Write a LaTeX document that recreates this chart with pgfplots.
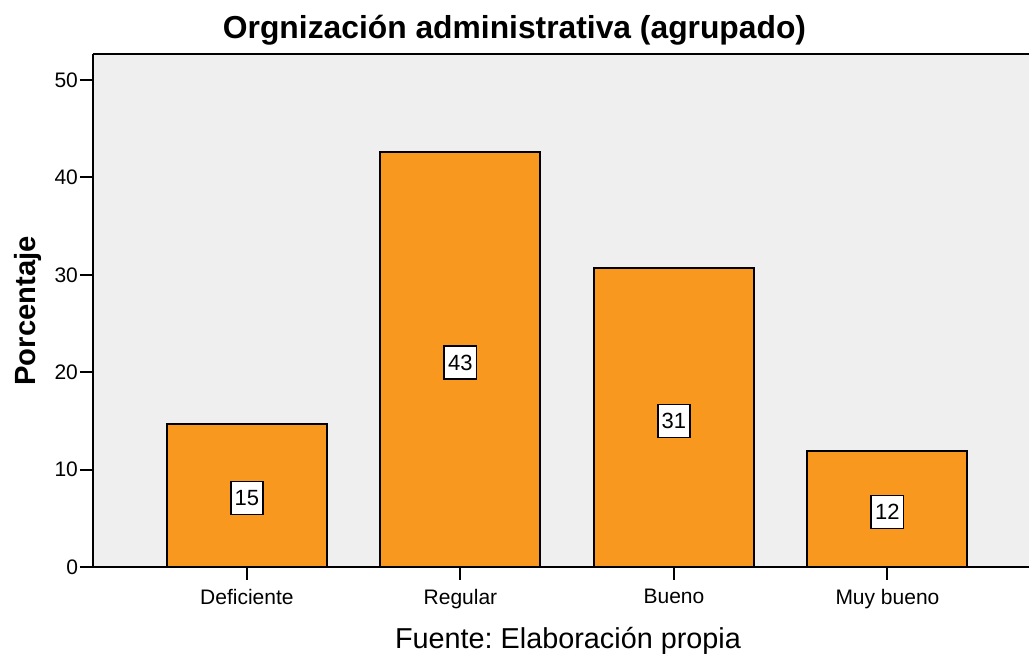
\documentclass[border=0pt]{standalone}
\usepackage{pgfplots}
\pgfplotsset{compat=1.18}
\usepackage{fontspec}
\setmainfont{Liberation Sans}
\frenchspacing
\definecolor{barorange}{RGB}{248,152,31}
\definecolor{bggray}{RGB}{239,239,239}
\begin{document}
\begin{tikzpicture}
\path[use as bounding box] (-46.5pt,-45pt) rectangle (468pt,283.5pt);
\begin{axis}[
  at={(0,0)}, anchor=south west,
  scale only axis,
  width=468pt, height=256.5pt,
  xmin=-0.721, xmax=3.663,
  ymin=0, ymax=52.67,
  axis background/.style={fill=bggray},
  axis line style={draw=none},
  xtick=data,
  xticklabels={Deficiente,Regular,Bueno,Muy bueno},
  ytick={0,10,20,30,40,50},
  tick align=outside,
  xtick pos=bottom, ytick pos=left,
  major tick length=6.5pt,
  x tick style={black, line width=1pt},
  y tick style={black, line width=1pt},
  tick label style={font=\fontsize{10.5}{12}\selectfont},
  xticklabel style={yshift=-1pt},
  yticklabel style={xshift=2.5pt},
  /pgf/number format/assume math mode=true,
  clip=false,
]
\addplot[ybar, bar width=80pt, fill=barorange, draw=black, line width=1pt]
  coordinates {(0,14.7) (1,42.6) (2,30.7) (3,11.9)};
\addplot[draw=none, mark=none, nodes near coords, point meta=explicit symbolic,
  every node near coord/.style={anchor=center, fill=white, draw=black, line width=0.8pt,
    inner sep=2pt, minimum height=16.5pt, font=\fontsize{11}{12}\selectfont}]
  coordinates {(0,7.1)[15] (1,21.0)[43] (2,15.0)[31] (3,5.65)[12]};
\draw[black, line width=1pt] (rel axis cs:0,1) -- (rel axis cs:0,0) -- (rel axis cs:1,0);
\draw[black, line width=1pt] (rel axis cs:0,1) -- (rel axis cs:1,1);
\end{axis}
\node[anchor=base, font=\bfseries\fontsize{15.9}{18}\selectfont] at (210.75pt,264pt) {Orgnización administrativa (agrupado)};
\node[anchor=base, font=\fontsize{14.4}{17}\selectfont] at (237.5pt,-41pt) {Fuente: Elaboración propia};
\node[rotate=90, anchor=center, font=\bfseries\fontsize{14.6}{17}\selectfont] at (-32.5pt,128pt) {Porcentaje};
\end{tikzpicture}
\end{document}
